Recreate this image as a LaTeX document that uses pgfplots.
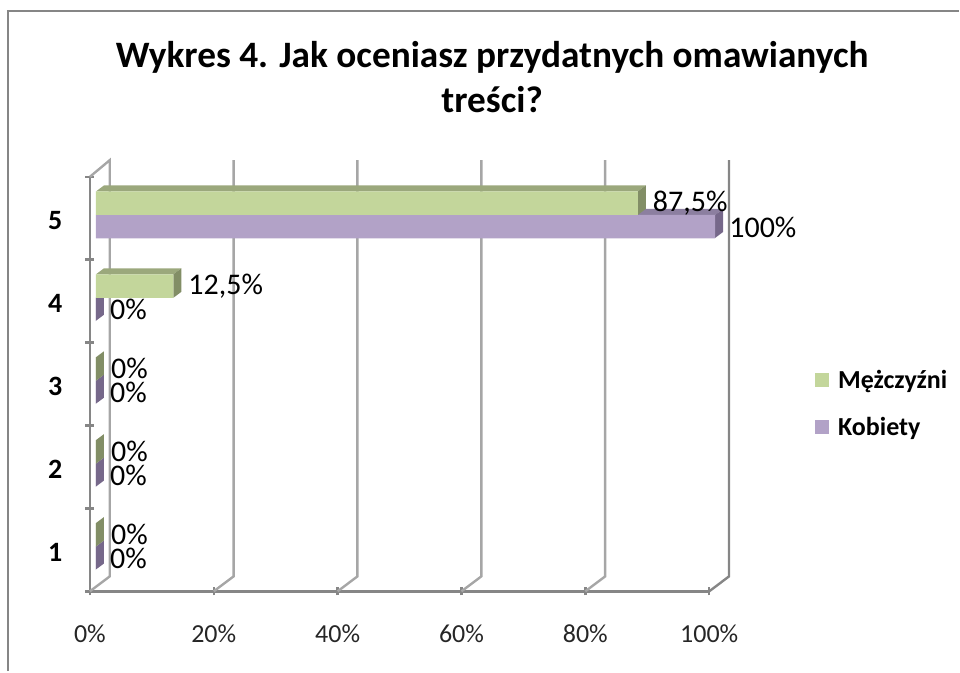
\documentclass[border=0pt]{standalone}
\usepackage{fontspec}
\setmainfont{Carlito}
\usepackage{pgfplots}
\pgfplotsset{compat=1.18}
\definecolor{frame}{HTML}{868686}
\definecolor{wall}{HTML}{A6A6A6}
\definecolor{gfront}{HTML}{C3D69B}
\definecolor{gtop}{HTML}{9BA87C}
\definecolor{gside}{HTML}{828E66}
\definecolor{pfront}{HTML}{B2A2C7}
\definecolor{ptop}{HTML}{8C7FA0}
\definecolor{pside}{HTML}{76688A}
\begin{document}
\begin{tikzpicture}
\begin{axis}[
  scale only axis, width=620pt, height=415pt,
  xmin=0, xmax=100, ymin=0, ymax=5,
  clip=false,
  axis x line=bottom, axis y line=left,
  axis line style={draw=frame, line width=2.4pt, -},
  xtick={0,20,40,60,80,100},
  xticklabel={\pgfmathprintnumber{\tick}\%},
  x tick label style={font=\fontsize{26}{30}\selectfont, text=black!85, yshift=-26pt},
  major x tick style={draw=frame, line width=2.4pt},
  major tick length=8pt,
  ytick={0.47,1.47,2.47,3.47,4.47},
  yticklabels={1,2,3,4,5},
  y tick label style={font=\fontsize{28}{32}\bfseries\selectfont, text=black, xshift=-20pt},
  major y tick style={draw=none},
  minor ytick={0,1,2,3,4,5},
  minor y tick style={draw=frame, line width=2.4pt},
  minor tick length=9pt,
  /pgf/number format/assume math mode=true,
  /pgf/number format/use comma,
  bar width=23.5pt,
  reverse legend,
  legend style={at={(1.166,0.453)}, anchor=west, draw=none, fill=none,
    font=\fontsize{26}{30}\bfseries\selectfont, row sep=23pt,
    /tikz/column 1/.style={column sep=7pt}},
  legend cell align=left,
  legend image code/.code={\fill[#1] (0pt,-7pt) rectangle (14pt,7pt);},
]
% page extent
\addplot[draw=none, forget plot] coordinates {(-14.516,-0.9639) (140.32,7.1325)};
% chart frame
\addplot[frame, line width=2.6pt, forget plot] coordinates {(-13.2,-0.9639) (-13.2,7.0)};
\addplot[frame, line width=2.2pt, forget plot] coordinates {(-13.4,6.995) (140.32,6.995)};
% back wall and floor/side edges
\addplot[wall, line width=2.4pt, forget plot] coordinates {(0,0) (3.2,0.18) (3.2,5.2) (0,5)};
\addplot[wall, line width=2.4pt, forget plot] coordinates {(20,0) (23.2,0.18) (23.2,5.2)};
\addplot[wall, line width=2.4pt, forget plot] coordinates {(40,0) (43.2,0.18) (43.2,5.2)};
\addplot[wall, line width=2.4pt, forget plot] coordinates {(60,0) (63.2,0.18) (63.2,5.2)};
\addplot[wall, line width=2.4pt, forget plot] coordinates {(80,0) (83.2,0.18) (83.2,5.2)};
\addplot[frame, line width=2.4pt, forget plot] coordinates {(100,0) (103.2,0.18) (103.2,5.2)};

% Kobiety: side and top faces, then bars
\addplot[fill=ptop, draw=none, xshift=6pt, forget plot] coordinates {(0,4.54) (100,4.54) (101.29,4.612) (1.29,4.612)} -- cycle;
\addplot[fill=pside, draw=none, xshift=6pt, forget plot] coordinates {(100,4.263) (101.29,4.335) (101.29,4.612) (100,4.54)} -- cycle;
\addplot[fill=pside, draw=none, xshift=6pt, forget plot] coordinates {(0,3.263) (1.29,3.335) (1.29,3.612) (0,3.54)} -- cycle;
\addplot[fill=pside, draw=none, xshift=6pt, forget plot] coordinates {(0,2.263) (1.29,2.335) (1.29,2.612) (0,2.54)} -- cycle;
\addplot[fill=pside, draw=none, xshift=6pt, forget plot] coordinates {(0,1.263) (1.29,1.335) (1.29,1.612) (0,1.54)} -- cycle;
\addplot[fill=pside, draw=none, xshift=6pt, forget plot] coordinates {(0,0.263) (1.29,0.335) (1.29,0.612) (0,0.54)} -- cycle;
\addplot[xbar, bar shift=-11.75pt, fill=pfront, draw=none, xshift=6pt,
  point meta=x, nodes near coords={\pgfmathprintnumber{\pgfplotspointmeta}\%},
  every node near coord/.append style={font=\fontsize{30}{34}\selectfont, text=black, anchor=west, xshift=11pt, yshift=-12pt, inner sep=3pt}]
  coordinates {(0,0.54) (0,1.54) (0,2.54) (0,3.54) (100,4.54)};
\addlegendentry{Kobiety}

% Mezczyzni: side and top faces, then bars
\addplot[fill=gtop, draw=none, xshift=6pt, forget plot] coordinates {(0,4.823) (87.5,4.823) (88.79,4.895) (1.29,4.895)} -- cycle;
\addplot[fill=gside, draw=none, xshift=6pt, forget plot] coordinates {(87.5,4.54) (88.79,4.612) (88.79,4.895) (87.5,4.823)} -- cycle;
\addplot[fill=gtop, draw=none, xshift=6pt, forget plot] coordinates {(0,3.823) (12.5,3.823) (13.79,3.895) (1.29,3.895)} -- cycle;
\addplot[fill=gside, draw=none, xshift=6pt, forget plot] coordinates {(12.5,3.54) (13.79,3.612) (13.79,3.895) (12.5,3.823)} -- cycle;
\addplot[fill=gside, draw=none, xshift=6pt, forget plot] coordinates {(0,2.54) (1.29,2.612) (1.29,2.895) (0,2.823)} -- cycle;
\addplot[fill=gside, draw=none, xshift=6pt, forget plot] coordinates {(0,1.54) (1.29,1.612) (1.29,1.895) (0,1.823)} -- cycle;
\addplot[fill=gside, draw=none, xshift=6pt, forget plot] coordinates {(0,0.54) (1.29,0.612) (1.29,0.895) (0,0.823)} -- cycle;
\addplot[xbar, bar shift=11.75pt, fill=gfront, draw=none, xshift=6pt,
  point meta=x, nodes near coords={\pgfmathprintnumber{\pgfplotspointmeta}\%},
  every node near coord/.append style={font=\fontsize{30}{34}\selectfont, text=black, anchor=west, xshift=12pt, yshift=12pt, inner sep=3pt}]
  coordinates {(0,0.54) (0,1.54) (0,2.54) (12.5,3.54) (87.5,4.54)};
\addlegendentry{Mężczyźni}

\node[font=\fontsize{37.3}{45}\bfseries\selectfont, align=center, text=black] at (axis cs:64.95,6.2)
  {Wykres 4. Jak oceniasz przydatnych omawianych\\treści?};
\end{axis}
\end{tikzpicture}
\end{document}
